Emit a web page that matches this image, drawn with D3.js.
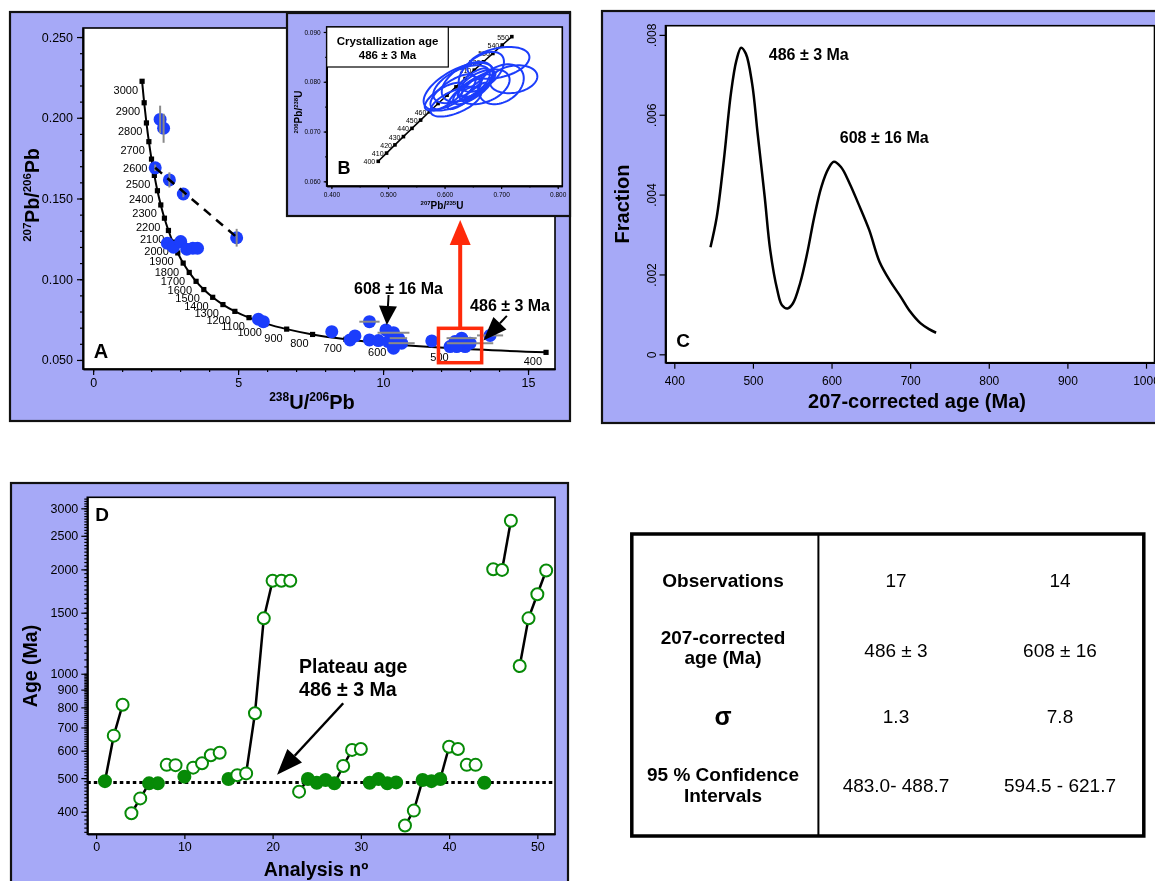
<!DOCTYPE html>
<html>
<head>
<meta charset="utf-8">
<title>U-Pb zircon ages</title>
<script src="https://cdn.jsdelivr.net/npm/d3@7"></script>
<style>
  body { margin: 0; background: #fff; }
  svg { display: block; will-change: transform; }
  svg text { font-family: "Liberation Sans", Arial, Helvetica, sans-serif; fill: #000; }
</style>
</head>
<body>
<script>
// ---------- A: Tera-Wasserburg diagram ----------
const twAges = [3000, 2900, 2800, 2700, 2600, 2500, 2400, 2300, 2200, 2100, 2000, 1900, 1800, 1700,
                1600, 1500, 1400, 1300, 1200, 1100, 1000, 900, 800, 700, 600, 500, 400];
const twU = [1.688, 1.760, 1.838, 1.922, 2.013, 2.111, 2.217, 2.333, 2.459, 2.597, 2.749, 2.918, 3.105, 3.314,
             3.550, 3.817, 4.123, 4.476, 4.888, 5.375, 5.960, 6.675, 7.569, 8.718, 10.252, 12.399, 15.621];
const twPb = [0.2226, 0.2093, 0.1968, 0.1852, 0.1744, 0.1643, 0.1548, 0.1460, 0.1378, 0.1302, 0.1230, 0.1163, 0.1100, 0.1042,
              0.0987, 0.0936, 0.0888, 0.0843, 0.0801, 0.0762, 0.0725, 0.0691, 0.0658, 0.0628, 0.0599, 0.0572, 0.0547];

const aU = [2.31, 2.43, 2.14, 2.63, 3.11, 4.95, 2.56, 2.77, 3.02, 3.23, 3.44, 3.60, 5.70, 5.87, 8.23, 8.86, 9.03, 9.53,
            9.53, 9.84, 10.10, 10.36, 10.18, 10.53, 10.64, 10.36, 11.68, 12.31, 12.48, 12.71, 12.83, 13.00, 12.66, 12.54, 13.69];
const aPb = [0.1990, 0.1935, 0.1690, 0.1615, 0.1528, 0.1257, 0.1223, 0.1198, 0.1233, 0.1186, 0.1192, 0.1192, 0.0752, 0.0737,
             0.0675, 0.0624, 0.0649, 0.0737, 0.0624, 0.0620, 0.0686, 0.0669, 0.0614, 0.0635, 0.0604, 0.0573, 0.0618, 0.0583,
             0.0614, 0.0635, 0.0583, 0.0604, 0.0614, 0.0583, 0.0652];
const aUErr = [0, 0, 0, 0, 0, 0, 0, 0, 0, 0, 0, 0, 0, 0, 0, 0, 0, 0.35, 0, 0, 0, 0.55, 0, 0.3, 0.45, 0, 0, 0, 0, 0.52, 0, 0.8, 0, 0, 0.45];
const aPbErr = [0.0085, 0.009, 0.002, 0.0047, 0.002, 0.0055, 0, 0, 0, 0, 0, 0, 0, 0, 0, 0, 0, 0, 0, 0, 0, 0, 0, 0, 0, 0, 0, 0, 0, 0, 0, 0, 0, 0, 0];
const aDashU = [2.14, 5.05];
const aDashPb = [0.169, 0.1245];
const aTicksX = [0, 5, 10, 15];
const aTicksY = [0.05, 0.10, 0.15, 0.20, 0.25];

// ---------- B: Wetherill concordia inset ----------
const wAges = [400, 410, 420, 430, 440, 450, 460, 470, 480, 490, 500, 510, 520, 530, 540, 550];
const w75 = [0.4828, 0.4975, 0.5123, 0.5273, 0.5424, 0.5577, 0.5731, 0.5886, 0.6044, 0.6202, 0.6363, 0.6525, 0.6688, 0.6854, 0.7020, 0.7189];
const w68 = [0.06402, 0.06567, 0.06732, 0.06898, 0.07064, 0.07230, 0.07397, 0.07563, 0.07730, 0.07897, 0.08065, 0.08233, 0.08401, 0.08569, 0.08738, 0.08906];
const wLabelled = [400, 410, 420, 430, 440, 450, 460, 510, 520, 530, 540, 550];
// [207/235, 206/238, s207/235, s206/238, rho]
const ellipses = [
  [0.695, 0.0838, 0.055, 0.0032, 0.35], [0.722, 0.0805, 0.042, 0.0028, 0.2], [0.625, 0.0790, 0.062, 0.0048, 0.6],
  [0.640, 0.0800, 0.045, 0.0040, 0.5], [0.615, 0.0780, 0.040, 0.0035, 0.7], [0.650, 0.0785, 0.035, 0.0030, 0.75],
  [0.660, 0.0795, 0.030, 0.0026, 0.8], [0.635, 0.0775, 0.030, 0.0030, 0.8], [0.645, 0.0790, 0.022, 0.0020, 0.85],
  [0.655, 0.0780, 0.020, 0.0018, 0.85], [0.630, 0.0795, 0.050, 0.0038, 0.55], [0.670, 0.0790, 0.045, 0.0035, 0.4],
  [0.600, 0.0770, 0.035, 0.0028, 0.7], [0.700, 0.0795, 0.040, 0.0040, 0.3], [0.665, 0.0820, 0.040, 0.0040, 0.5],
  [0.620, 0.0760, 0.045, 0.0030, 0.6], [0.650, 0.0805, 0.025, 0.0022, 0.8]
];
const bTicksX = [0.4, 0.5, 0.6, 0.7, 0.8];
const bTicksY = [0.06, 0.07, 0.08, 0.09];

// ---------- C: probability density ----------
const cAge = [446, 454, 463, 472, 479, 485, 491, 499, 506, 515, 522, 531, 537, 544, 551, 560, 569, 578, 587, 596,
              603, 612, 623, 634, 648, 661, 675, 688, 700, 713, 724, 733];
const cFrac = [0.00268, 0.00344, 0.00486, 0.00653, 0.00736, 0.00768, 0.00753, 0.00678, 0.00553, 0.00394, 0.00261,
               0.00161, 0.00123, 0.00115, 0.00128, 0.00178, 0.00253, 0.00344, 0.00419, 0.00465, 0.00482, 0.00469,
               0.00428, 0.00378, 0.00311, 0.00232, 0.00182, 0.00144, 0.00107, 0.00078, 0.00063, 0.00054];
const cTicksX = [400, 500, 600, 700, 800, 900, 1000];
const cTicksY = [0, 0.002, 0.004, 0.006, 0.008];

// ---------- D: age vs analysis number ----------
const dAge = [490, 663, 814, 396, 437, 483, 483, 546, 545, 505, 536, 552, 582, 592, 497, 510, 516, 769, 1445, 1855,
              1855, 1855, 457, 497, 485, 494, 483, 542, 603, 607, 485, 497, 483, 486, 365, 403, 494, 490, 497, 616,
              607, 546, 546, 485, 2001, 1993, 2763, 1053, 1445, 1695, 1985];
const dFilled = [1, 6, 7, 10, 15, 24, 25, 26, 27, 31, 32, 33, 34, 37, 38, 39, 44];
const dRuns = [[1, 3], [4, 6], [17, 20], [23, 24], [27, 29], [35, 37], [39, 40], [46, 47], [48, 51]];
const plateauAge = 486;
const dTicksX = [0, 10, 20, 30, 40, 50];
const dTicksY = [400, 500, 600, 700, 800, 900, 1000, 1500, 2000, 2500, 3000];

// ---------- table ----------
const tblLabels = [["Observations"], ["207-corrected", "age (Ma)"], ["σ"], ["95 % Confidence", "Intervals"]];
const tblPop1 = ["17", "486 ± 3", "1.3", "483.0- 488.7"];
const tblPop2 = ["14", "608 ± 16", "7.8", "594.5 - 621.7"];

const lav = "#a6a9f7", blue = "#1b3dfc", green = "#078a07", red = "#ff2a0a";

const svg = d3.select("body").append("svg").attr("width", 1155).attr("height", 881);

function panelBox(x, y, w, h) {
  svg.append("rect").attr("x", x).attr("y", y).attr("width", w).attr("height", h)
    .attr("fill", lav).attr("stroke", "#111").attr("stroke-width", 2.2);
}
function plotFrame(g, x, y) {
  const [x0, x1] = x.range(), [y1, y0] = y.range();
  g.append("rect").attr("x", x0).attr("y", y0).attr("width", x1 - x0).attr("height", y1 - y0)
    .attr("fill", "#fff").attr("stroke", "#000").attr("stroke-width", 1.6);
}
function drawAxis(g, ax, tr, major, minor, fmt, fs, len, pad) {
  const m = g.append("g").attr("transform", tr)
    .call(ax.tickValues(minor).tickSize(len / 2).tickSizeOuter(0).tickFormat(""));
  const a = g.append("g").attr("transform", tr)
    .call(ax.tickValues(major).tickSize(len).tickSizeOuter(0).tickPadding(pad).tickFormat(fmt));
  [m, a].forEach(s => {
    s.select(".domain").attr("stroke", "#000").attr("stroke-width", 1.6);
    s.selectAll(".tick line").attr("stroke", "#000").attr("stroke-width", 1.2);
  });
  a.selectAll("text").attr("font-size", fs);
  return a;
}
function supText(g, x, y, parts, fs, sfs, rot) {
  const t = g.append("text").attr("transform", `translate(${x},${y})` + (rot ? " rotate(-90)" : ""))
    .attr("text-anchor", "middle").attr("font-weight", "bold").attr("font-size", fs);
  let up = false;
  parts.forEach(([s, sup]) => {
    const sp = t.append("tspan").text(s);
    if (sup) { sp.attr("font-size", sfs); if (!up) sp.attr("dy", -fs * 0.4); up = true; }
    else { sp.attr("font-size", fs); if (up) sp.attr("dy", fs * 0.4); up = false; }
  });
  return t;
}
function label(g, x, y, s, fs, opt = {}) {
  return g.append("text").attr("x", x).attr("y", y).text(s).attr("font-size", fs)
    .attr("font-weight", opt.bold ? "bold" : null).attr("text-anchor", opt.anchor || "middle")
    .attr("transform", opt.rot ? `rotate(-90,${x},${y})` : null);
}
function arrow(g, x1, y1, x2, y2, len, wid, color, sw) {
  const a = Math.atan2(y2 - y1, x2 - x1);
  const bx = x2 - len * Math.cos(a), by = y2 - len * Math.sin(a);
  g.append("line").attr("x1", x1).attr("y1", y1).attr("x2", bx).attr("y2", by)
    .attr("stroke", color).attr("stroke-width", sw);
  const px = -Math.sin(a) * wid / 2, py = Math.cos(a) * wid / 2;
  g.append("path").attr("d", `M${x2},${y2}L${bx + px},${by + py}L${bx - px},${by - py}Z`).attr("fill", color);
}

// ================= Panel A =================
panelBox(10, 12, 560, 409);
const xA = d3.scaleLinear().domain([-0.35, 15.93]).range([83, 555]);
const yA = d3.scaleLinear().domain([0.0444, 0.2556]).range([369, 28]);
const gA = svg.append("g");
plotFrame(gA, xA, yA);
drawAxis(gA, d3.axisBottom(xA), "translate(0,369)", aTicksX, d3.range(0, 16), d3.format("d"), 12.5, 6, 3);
drawAxis(gA, d3.axisLeft(yA), "translate(83,0)", aTicksY, d3.range(5, 26).map(v => v / 100), d3.format(".3f"), 12.5, 6, 4);

const idxTW = d3.range(twAges.length);
gA.append("path").datum(idxTW)
  .attr("d", d3.line().x(i => xA(twU[i])).y(i => yA(twPb[i])).curve(d3.curveCatmullRom))
  .attr("fill", "none").attr("stroke", "#000").attr("stroke-width", 2);
gA.selectAll(".twsq").data(idxTW).enter().append("rect")
  .attr("x", i => xA(twU[i]) - 2.6).attr("y", i => yA(twPb[i]) - 2.6)
  .attr("width", 5.2).attr("height", 5.2).attr("fill", "#000");
gA.selectAll(".twlab").data(idxTW).enter().append("text")
  .attr("x", i => xA(twU[i]) - 4).attr("y", i => yA(twPb[i]) + 12.5)
  .attr("text-anchor", "end").attr("font-size", 11).text(i => twAges[i]);

const idxA = d3.range(aU.length);
gA.selectAll(".dotA").data(idxA).enter().append("circle")
  .attr("cx", i => xA(aU[i])).attr("cy", i => yA(aPb[i])).attr("r", 6.5).attr("fill", blue);
gA.selectAll(".ebx").data(idxA.filter(i => aUErr[i] > 0)).enter().append("line")
  .attr("x1", i => xA(aU[i] - aUErr[i])).attr("x2", i => xA(aU[i] + aUErr[i]))
  .attr("y1", i => yA(aPb[i])).attr("y2", i => yA(aPb[i]))
  .attr("stroke", "#8a8a8a").attr("stroke-width", 2);
gA.selectAll(".eby").data(idxA.filter(i => aPbErr[i] > 0)).enter().append("line")
  .attr("x1", i => xA(aU[i])).attr("x2", i => xA(aU[i]))
  .attr("y1", i => yA(aPb[i] - aPbErr[i])).attr("y2", i => yA(aPb[i] + aPbErr[i]))
  .attr("stroke", "#8a8a8a").attr("stroke-width", 2);
gA.append("line")
  .attr("x1", xA(aDashU[0])).attr("y1", yA(aDashPb[0])).attr("x2", xA(aDashU[1])).attr("y2", yA(aDashPb[1]))
  .attr("stroke", "#000").attr("stroke-width", 2.5).attr("stroke-dasharray", "9,7");

// annotations A
arrow(gA, xA(10.19), yA(0.0902), xA(10.13), yA(0.0717), 19, 18, "#000", 2);
label(gA, xA(10.53), yA(0.0909), "608 ± 16 Ma", 16, {bold: true});
arrow(gA, xA(14.27), yA(0.0773), xA(13.46), yA(0.0620), 24, 18, "#000", 2);
label(gA, xA(14.38), yA(0.0803), "486 ± 3 Ma", 16, {bold: true});
gA.append("rect").attr("x", xA(11.91)).attr("y", yA(0.0696))
  .attr("width", xA(13.40) - xA(11.91)).attr("height", yA(0.0483) - yA(0.0696))
  .attr("fill", "none").attr("stroke", red).attr("stroke-width", 3.5);
arrow(gA, xA(12.66), yA(0.0696), xA(12.66), yA(0.1367), 25, 21, red, 4);
label(gA, 101, 358, "A", 20, {bold: true});
supText(gA, 39, 195, [["207", 1], ["Pb/", 0], ["206", 1], ["Pb", 0]], 19.5, 11.5, true);
supText(gA, 312, 409, [["238", 1], ["U/", 0], ["206", 1], ["Pb", 0]], 20, 12, false);

// ================= Inset B =================
panelBox(287, 13, 283, 203);
const xB = d3.scaleLinear().domain([0.3917, 0.8081]).range([326.7, 562.3]);
const yB = d3.scaleLinear().domain([0.05906, 0.0910]).range([186, 27]);
const gB = svg.append("g");
plotFrame(gB, xB, yB);
drawAxis(gB, d3.axisBottom(xB), "translate(0,186)", bTicksX, d3.range(8, 17).map(v => v / 20), d3.format(".3f"), 6.5, 3, 3);
drawAxis(gB, d3.axisLeft(yB), "translate(326.7,0)", bTicksY, d3.range(12, 19).map(v => v / 200), d3.format(".3f"), 6.5, 3, 3);

const idxW = d3.range(wAges.length);
gB.append("path").datum(idxW)
  .attr("d", d3.line().x(i => xB(w75[i])).y(i => yB(w68[i])))
  .attr("fill", "none").attr("stroke", "#000").attr("stroke-width", 1.5);
gB.selectAll(".wsq").data(idxW).enter().append("rect")
  .attr("x", i => xB(w75[i]) - 1.8).attr("y", i => yB(w68[i]) - 1.8)
  .attr("width", 3.6).attr("height", 3.6).attr("fill", "#000");
gB.selectAll(".wlab").data(idxW.filter(i => wLabelled.includes(wAges[i]))).enter().append("text")
  .attr("x", i => xB(w75[i]) - 3).attr("y", i => yB(w68[i]) + 3)
  .attr("text-anchor", "end").attr("font-size", 7).attr("fill", "#222").text(i => wAges[i]);

const ellLine = d3.line().x(d => xB(d[0])).y(d => yB(d[1])).curve(d3.curveLinearClosed);
gB.selectAll(".ell").data(ellipses).enter().append("path")
  .attr("d", ([cx, cy, sx, sy, r]) => ellLine(d3.range(72).map(k => {
    const t = k / 72 * 2 * Math.PI;
    return [cx + sx * Math.cos(t), cy + sy * (r * Math.cos(t) + Math.sqrt(1 - r * r) * Math.sin(t))];
  })))
  .attr("fill", "none").attr("stroke", blue).attr("stroke-width", 2);

gB.append("rect").attr("x", 326.7).attr("y", 27).attr("width", 121.6).attr("height", 40)
  .attr("fill", "#fff").attr("stroke", "#000").attr("stroke-width", 1.2);
label(gB, 387.5, 45, "Crystallization age", 11.5, {bold: true});
label(gB, 387.5, 59, "486 ± 3 Ma", 11.5, {bold: true});
label(gB, 344, 174, "B", 18, {bold: true});
supText(gB, 302, 112, [["206", 1], ["Pb/", 0], ["238", 1], ["U", 0]], 10, 6, true);
supText(gB, 442, 209, [["207", 1], ["Pb/", 0], ["235", 1], ["U", 0]], 10, 6, false);

// ================= Panel C =================
panelBox(602, 11, 570, 412);
const xC = d3.scaleLinear().domain([388.8, 1010.8]).range([665.5, 1154.5]);
const yC = d3.scaleLinear().domain([-0.00021, 0.00823]).range([362.7, 25.7]);
const gC = svg.append("g");
plotFrame(gC, xC, yC);
drawAxis(gC, d3.axisBottom(xC), "translate(0,362.7)", cTicksX, [], d3.format("d"), 12, 6, 8);
const cy = drawAxis(gC, d3.axisLeft(yC), "translate(665.5,0)", cTicksY, [], v => v === 0 ? "0" : d3.format(".3f")(v).slice(1), 12, 6, 4);
cy.selectAll("text").attr("transform", "rotate(-90)").attr("text-anchor", "middle")
  .attr("x", 0).attr("y", -10).attr("dy", null);

gC.append("path").datum(d3.range(cAge.length))
  .attr("d", d3.line().x(i => xC(cAge[i])).y(i => yC(cFrac[i])).curve(d3.curveCatmullRom))
  .attr("fill", "none").attr("stroke", "#000").attr("stroke-width", 2.5);
label(gC, xC(571), yC(0.00738), "486 ± 3 Ma", 16, {bold: true});
label(gC, xC(667), yC(0.00528), "608 ± 16 Ma", 16, {bold: true});
label(gC, 683, 347, "C", 19, {bold: true});
label(gC, 629, 204, "Fraction", 20, {bold: true, rot: true});
label(gC, 917, 408, "207-corrected age (Ma)", 20, {bold: true});

// ================= Panel D =================
panelBox(11, 483, 557, 410);
const xD = d3.scaleLinear().domain([-1, 52]).range([87.3, 555]);
const yD = d3.scaleLog().domain([345, 3228]).range([834, 497.3]);
const gD = svg.append("g");
plotFrame(gD, xD, yD);
drawAxis(gD, d3.axisBottom(xD), "translate(0,834)", dTicksX, [], d3.format("d"), 12.5, 5, 3);
drawAxis(gD, d3.axisLeft(yD), "translate(87.3,0)", dTicksY,
  d3.range(350, 1000, 10).concat(d3.range(1000, 3250, 50)), d3.format("d"), 12.5, 6, 3);

gD.append("line").attr("x1", xD(-1)).attr("x2", xD(52)).attr("y1", yD(plateauAge)).attr("y2", yD(plateauAge))
  .attr("stroke", "#000").attr("stroke-width", 3).attr("stroke-dasharray", "3.5,3");
gD.selectAll(".run").data(dRuns).enter().append("path")
  .attr("d", r => d3.line().x(n => xD(n)).y(n => yD(dAge[n - 1]))(d3.range(r[0], r[1] + 1)))
  .attr("fill", "none").attr("stroke", "#000").attr("stroke-width", 2.5);
gD.selectAll(".dotD").data(d3.range(1, dAge.length + 1)).enter().append("circle")
  .attr("cx", n => xD(n)).attr("cy", n => yD(dAge[n - 1])).attr("r", 6)
  .attr("fill", n => dFilled.includes(n) ? green : "#fff")
  .attr("stroke", green).attr("stroke-width", 2);

arrow(gD, xD(28.0), yD(822), xD(20.5), yD(511), 26, 20, "#000", 2.5);
label(gD, xD(23.0), yD(1008), "Plateau age", 19.5, {bold: true, anchor: "start"});
label(gD, xD(23.0), yD(863), "486 ± 3 Ma", 19.5, {bold: true, anchor: "start"});
label(gD, 102, 521, "D", 19, {bold: true});
label(gD, 37, 666, "Age (Ma)", 19.5, {bold: true, rot: true});
label(gD, 316, 876, "Analysis nº", 19.5, {bold: true});

// ================= Table =================
const gT = svg.append("g");
gT.append("rect").attr("x", 631.8).attr("y", 534).attr("width", 512).attr("height", 302)
  .attr("fill", "#fff").attr("stroke", "#000").attr("stroke-width", 3.5);
gT.append("line").attr("x1", 818.4).attr("x2", 818.4).attr("y1", 534).attr("y2", 836)
  .attr("stroke", "#000").attr("stroke-width", 2);
const labelY = [[587.3], [644.3, 664.3], [725], [780.7, 802.3]];
const valueY = [587.3, 657.3, 723.3, 791.7];
tblLabels.forEach((lines, r) => {
  lines.forEach((s, k) => label(gT, 723, labelY[r][k], s, s === "σ" ? 25 : 19, {bold: true}));
  label(gT, 896, valueY[r], tblPop1[r], 19);
  label(gT, 1060, valueY[r], tblPop2[r], 19);
});
</script>
</body>
</html>
